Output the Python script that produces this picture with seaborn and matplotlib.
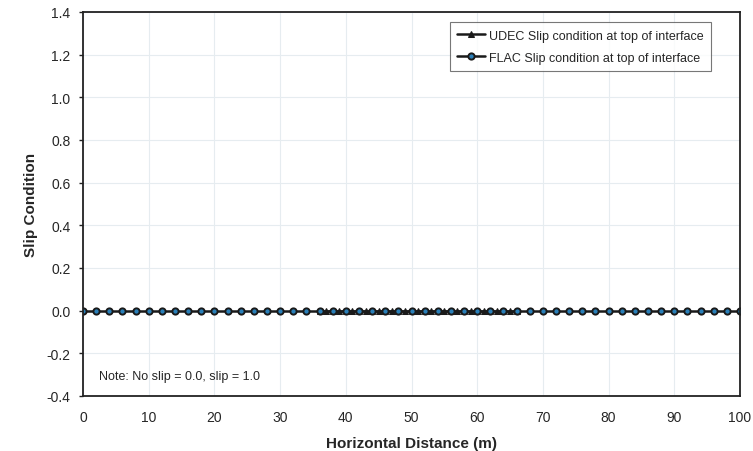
import numpy as np
import pandas as pd
import matplotlib
matplotlib.use("Agg")
import matplotlib.pyplot as plt
import seaborn as sns

# Data (slip condition is zero everywhere)
flac_x = list(range(0, 101, 2))
flac_y = [0.0] * len(flac_x)
udec_x = list(range(36, 67, 1))
udec_y = [0.0] * len(udec_x)

x_ticks = [0, 10, 20, 30, 40, 50, 60, 70, 80, 90, 100]
y_ticks = [-0.4, -0.2, 0.0, 0.2, 0.4, 0.6, 0.8, 1.0, 1.2, 1.4]

sns.set_theme(style="white")
plt.rcParams['font.family'] = ['Liberation Sans', 'DejaVu Sans']

fig = plt.figure(figsize=(7.53, 4.52), dpi=100)
ax = fig.add_axes([83/753, 1 - 397/452, (740-83)/753, (397-13)/452])

df_u = pd.DataFrame({"x": udec_x, "y": udec_y})
df_f = pd.DataFrame({"x": flac_x, "y": flac_y})

sns.lineplot(data=df_u, x="x", y="y", ax=ax, color="#1a1a1a", lw=1.8,
             marker="^", markersize=4.5, markeredgecolor="#1a1a1a",
             markerfacecolor="#1a1a1a",
             label="UDEC Slip condition at top of interface")
sns.lineplot(data=df_f, x="x", y="y", ax=ax, color="#1a1a1a", lw=1.8,
             marker="o", markersize=4.5, markeredgecolor="#1a1a1a",
             markeredgewidth=1.4, markerfacecolor="#2a7fb8",
             label="FLAC Slip condition at top of interface")

ax.set_xlim(0, 100)
ax.set_ylim(-0.4, 1.4)
ax.set_xticks(x_ticks)
ax.set_yticks(y_ticks)
ax.set_yticklabels([f"{v:.1f}" for v in y_ticks])
ax.tick_params(axis="x", labelsize=10, length=0, pad=10)
ax.tick_params(axis="y", labelsize=10, length=3, width=1, color="#222222",
               left=True, direction="out", pad=6)
ax.grid(True, color="#e6ecf0", lw=0.8)
for s in ax.spines.values():
    s.set_color("#222222")
    s.set_linewidth(1.3)

ax.set_xlabel("Horizontal Distance (m)", fontsize=11, fontweight="bold", labelpad=9)
ax.set_ylabel("Slip Condition", fontsize=11, fontweight="bold", labelpad=6)

ax.text(2.5, -0.305, "Note: No slip = 0.0, slip = 1.0", fontsize=9, va="center")

leg = ax.legend(loc="upper right", bbox_to_anchor=(0.965, 0.99), fontsize=9,
                frameon=True, fancybox=False, edgecolor="#555555",
                handlelength=2.2, handletextpad=0.3, borderpad=0.6,
                labelspacing=0.8)
leg.get_frame().set_linewidth(0.8)

fig.savefig("out.png", dpi=100)
